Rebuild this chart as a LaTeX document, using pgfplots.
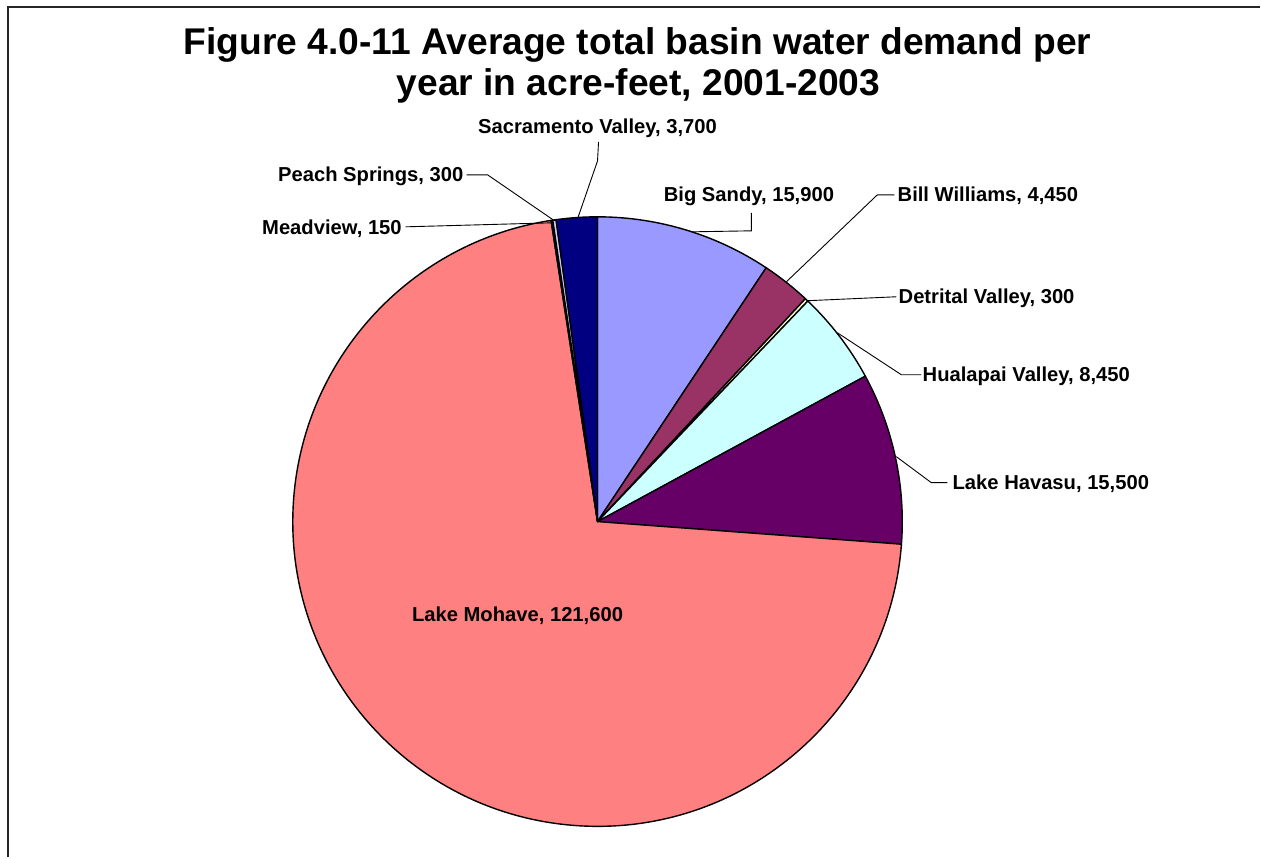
\documentclass[border=0pt]{standalone}
\usepackage{pgfplots}
\pgfplotsset{compat=1.18}
\usepackage{pgfplotstable}
\usepackage{fontspec}
\setmainfont{Liberation Sans}

% Average total basin water demand (acre-feet per year), clockwise from 12 o'clock
\pgfplotstableread[col sep=comma]{
basin,value,hex
Big Sandy,15900,9999FF
Bill Williams,4450,993366
Detrital Valley,300,FFFFCC
Hualapai Valley,8450,CCFFFF
Lake Havasu,15500,660066
Lake Mohave,121600,FF8080
Meadview,150,0066CC
Peach Springs,300,CCCCFF
Sacramento Valley,3700,000080
}\basins

% total demand
\def\total{0}
\pgfplotsforeachungrouped \i in {0,...,8}{%
  \pgfplotstablegetelem{\i}{value}\of\basins
  \edef\total{\fpeval{\total+\pgfplotsretval}}%
}
% start/end angle and colour of every slice
\def\cum{0}
\pgfplotsforeachungrouped \i in {0,...,8}{%
  \pgfplotstablegetelem{\i}{value}\of\basins
  \let\v\pgfplotsretval
  \expandafter\xdef\csname sA\i\endcsname{\fpeval{90-360*\cum/\total}}%
  \edef\cum{\fpeval{\cum+\v}}%
  \expandafter\xdef\csname sB\i\endcsname{\fpeval{90-360*\cum/\total}}%
  \pgfplotstablegetelem{\i}{hex}\of\basins
  \definecolor{slice\i}{HTML}{\pgfplotsretval}%
}

\def\cx{598}\def\cy{336}\def\R{305}

\tikzset{lbl/.style={font=\bfseries\fontsize{10.1}{12}\selectfont, inner sep=0pt}}

\begin{document}
\begin{tikzpicture}
\begin{axis}[
  scale only axis, width=630.5pt, height=429pt,
  xmin=0, xmax=1261, ymin=0, ymax=858,
  hide axis, clip=false,
]
\path (axis cs:0,0) rectangle (axis cs:1261,858);

% outer frame
\draw[line width=1pt, black!85] (axis cs:8,0) -- (axis cs:8,851) -- (axis cs:1261,851);

% title
\node[anchor=base, inner sep=0pt, font=\bfseries\fontsize{18.6}{22}\selectfont]
  at (axis cs:638,803) {Figure 4.0-11 Average total basin water demand per};
\node[anchor=base, inner sep=0pt, font=\bfseries\fontsize{18.6}{22}\selectfont]
  at (axis cs:639,762) {year in acre-feet, 2001-2003};

% slices
\pgfplotsforeachungrouped \i in {0,...,8}{%
  \edef\a{\csname sA\i\endcsname}\edef\b{\csname sB\i\endcsname}%
  \edef\doslice{\noexpand\draw[fill=slice\i, line width=0.7pt, line join=round]
    (axis cs:\cx,\cy) -- (axis cs:{\cx+\R*cos(\a)},{\cy+\R*sin(\a)})
    arc[start angle=\a, end angle=\b, radius=152.5pt] -- cycle;}%
  \doslice
}

% leader lines
\draw[line width=0.45pt] (axis cs:599,716) -- (axis cs:598,697) -- (axis cs:578,639);
\draw[line width=0.45pt] (axis cs:467,683) -- (axis cs:488,683) -- (axis cs:555,637);
\draw[line width=0.45pt] (axis cs:406,631) -- (axis cs:552,635);
\draw[line width=0.45pt] (axis cs:752,645) -- (axis cs:752,627) -- (axis cs:693,626);
\draw[line width=0.45pt] (axis cs:895,663) -- (axis cs:878,663) -- (axis cs:787,576);
\draw[line width=0.45pt] (axis cs:897,561) -- (axis cs:807,557);
\draw[line width=0.45pt] (axis cs:922,483) -- (axis cs:902,483) -- (axis cs:838,525);
\draw[line width=0.45pt] (axis cs:948,375) -- (axis cs:932,375) -- (axis cs:897,401);

% data labels
\node[lbl, anchor=base] at (axis cs:598,724) {Sacramento Valley, 3,700};
\node[lbl, anchor=base west] at (axis cs:278,676) {Peach Springs, 300};
\node[lbl, anchor=base west] at (axis cs:262,623) {Meadview, 150};
\node[lbl, anchor=base west] at (axis cs:664,656) {Big Sandy, 15,900};
\node[lbl, anchor=base west] at (axis cs:898,656) {Bill Williams, 4,450};
\node[lbl, anchor=base west] at (axis cs:899,554) {Detrital Valley, 300};
\node[lbl, anchor=base west] at (axis cs:923,476) {Hualapai Valley, 8,450};
\node[lbl, anchor=base west] at (axis cs:953,368) {Lake Havasu, 15,500};
\node[lbl, anchor=base west] at (axis cs:412,236) {Lake Mohave, 121,600};
\end{axis}
\end{tikzpicture}
\end{document}
